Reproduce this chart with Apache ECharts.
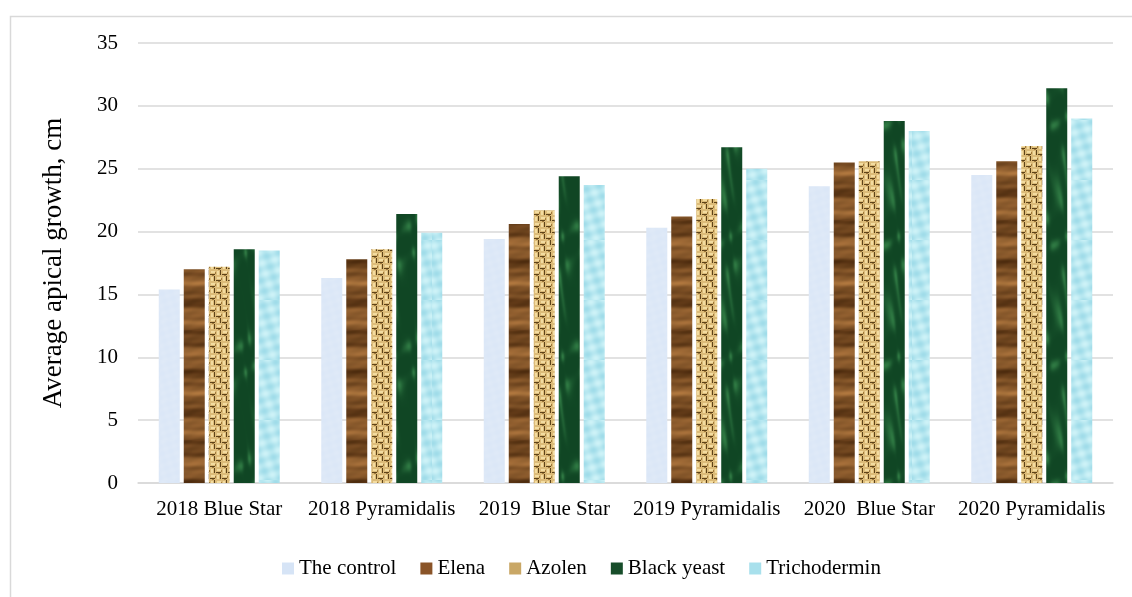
<!DOCTYPE html>
<html>
<head>
<meta charset="utf-8">
<script src="https://cdn.jsdelivr.net/npm/echarts@6/dist/echarts.min.js"></script>
<style>
  html, body { margin: 0; padding: 0; background: #fff; }
  #chart { width: 1132px; height: 597px; }
</style>
</head>
<body>
<div id="chart"></div>
<script>
// Categories (year + cultivar) and treatment series
const categories = ['2018 Blue Star', '2018 Pyramidalis', '2019  Blue Star', '2019 Pyramidalis', '2020  Blue Star', '2020 Pyramidalis'];
const seriesNames = ['The control', 'Elena', 'Azolen', 'Black yeast', 'Trichodermin'];

const controlValues     = [15.4, 16.3, 19.4, 20.3, 23.6, 24.5];
const elenaValues       = [17.0, 17.8, 20.6, 21.2, 25.5, 25.6];
const azolenValues      = [17.2, 18.6, 21.7, 22.6, 25.6, 26.8];
const blackYeastValues  = [18.6, 21.4, 24.4, 26.7, 28.8, 31.4];
const trichoValues      = [18.5, 19.9, 23.7, 25.0, 28.0, 29.0];

const yTicks = [0, 5, 10, 15, 20, 25, 30, 35];

// ---- Texture fills for the bars (drawn procedurally on small canvases) ----
function makeCanvas(w, h) {
  const c = document.createElement('canvas');
  c.width = w; c.height = h;
  return c;
}

// Pale frosted blue
function frostTexture() {
  const c = makeCanvas(40, 40), g = c.getContext('2d');
  g.fillStyle = '#dbe7f7'; g.fillRect(0, 0, 40, 40);
  for (let y = 0; y < 40; y++) {
    for (let x = 0; x < 40; x++) {
      const v = Math.sin(x * 0.45 + y * 0.3) * Math.cos(y * 0.5 - x * 0.2);
      const a = 0.12 * (v + 1) / 2;
      g.fillStyle = 'rgba(255,255,255,' + a.toFixed(3) + ')';
      g.fillRect(x, y, 1, 1);
    }
  }
  return c;
}

// Wood grain: broad horizontal brown bands
function woodTexture() {
  const c = makeCanvas(24, 110), g = c.getContext('2d');
  for (let y = 0; y < 110; y++) {
    const t = y / 110 * Math.PI * 2;
    const v = 0.5 + 0.28 * Math.sin(t * 3 + 0.4) + 0.18 * Math.sin(t * 8 + 1.3) + 0.06 * Math.sin(t * 17);
    const r = Math.round(170 - 90 * v), gg = Math.round(115 - 70 * v), b = Math.round(60 - 45 * v);
    for (let x = 0; x < 24; x++) {
      const d = 5 * Math.sin(x * 0.25 + y * 0.6);
      g.fillStyle = 'rgb(' + Math.round(r + d) + ',' + Math.round(gg + d * 0.7) + ',' + Math.max(0, Math.round(b + d * 0.4)) + ')';
      g.fillRect(x, y, 1, 1);
    }
  }
  return c;
}

// Woven straw: small interlocking blocks in tan
function weaveTexture() {
  const c = makeCanvas(12, 12), g = c.getContext('2d');
  g.fillStyle = '#dcbb78'; g.fillRect(0, 0, 12, 12);
  g.fillStyle = '#f3dca0';
  g.fillRect(1, 1, 4, 2); g.fillRect(7, 7, 4, 2);
  g.fillRect(7, 1, 2, 4); g.fillRect(1, 7, 2, 4);
  g.fillStyle = '#5e4318';
  g.fillRect(0, 4, 5, 1); g.fillRect(6, 10, 5, 1);
  g.fillRect(10, 0, 1, 5); g.fillRect(4, 6, 1, 5);
  g.fillStyle = '#a07a3c';
  g.fillRect(5, 2, 1, 2); g.fillRect(11, 8, 1, 2);
  g.fillRect(2, 5, 2, 1); g.fillRect(8, 11, 2, 1);
  return c;
}

// Dark green marble with soft veins
function marbleTexture() {
  const c = makeCanvas(42, 120), g = c.getContext('2d');
  for (let y = 0; y < 120; y++) {
    for (let x = 0; x < 42; x++) {
      const a = Math.sin(x * 0.15 + Math.sin(y * 0.0524) * 2.2 + y * 0.0524 * 2);
      const b2 = Math.sin(x * 0.45 - y * 0.105 + Math.cos(x * 0.3));
      const v = Math.pow((a * 0.6 + b2 * 0.4 + 1) / 2, 5);
      const r = Math.round(16 + 30 * v), gg = Math.round(70 + 50 * v), b = Math.round(36 + 30 * v);
      g.fillStyle = 'rgb(' + r + ',' + gg + ',' + b + ')';
      g.fillRect(x, y, 1, 1);
    }
  }
  return c;
}

// Light aqua water ripples
function waterTexture() {
  const c = makeCanvas(48, 60), g = c.getContext('2d');
  for (let y = 0; y < 60; y++) {
    for (let x = 0; x < 48; x++) {
      const v = Math.sin(x * 0.3 + y * 0.2) * Math.sin(y * 0.35 - x * 0.15) * 0.5 + 0.5;
      const r = Math.round(160 + 45 * v), gg = Math.round(220 + 22 * v), b = Math.round(233 + 14 * v);
      g.fillStyle = 'rgb(' + r + ',' + gg + ',' + b + ')';
      g.fillRect(x, y, 1, 1);
    }
  }
  return c;
}

const fills = [
  { image: frostTexture(), repeat: 'repeat' },
  { image: woodTexture(), repeat: 'repeat' },
  { image: weaveTexture(), repeat: 'repeat' },
  { image: marbleTexture(), repeat: 'repeat' },
  { image: waterTexture(), repeat: 'repeat' }
];
const legendColors = ['#d6e4f6', '#8a5428', '#c9a766', '#174d2a', '#a8e0ec'];

const valueSets = [controlValues, elenaValues, azolenValues, blackYeastValues, trichoValues];
const FONT = '"Liberation Serif", "Times New Roman", serif';

const chart = echarts.init(document.getElementById('chart'), null, { renderer: 'canvas' });

chart.setOption({
  backgroundColor: '#ffffff',
  animation: false,
  graphic: [{
    type: 'rect',
    left: 8, top: 14,
    shape: { width: 1200, height: 700 },
    style: { fill: 'none', stroke: '#d9d9d9', lineWidth: 1.5 },
    silent: true, z: -1
  }],
  grid: { left: 138, right: 19, top: 43, bottom: 114 },
  legend: {
    bottom: 13,
    left: 277,
    itemWidth: 12,
    itemHeight: 12,
    itemGap: 24,
    icon: 'rect',
    textStyle: { fontFamily: FONT, fontSize: 21, color: '#000', padding: [0, 0, 0, 0] },
    data: seriesNames.map((n, i) => ({ name: n, itemStyle: { color: legendColors[i] } }))
  },
  xAxis: {
    type: 'category',
    data: categories,
    axisLine: { lineStyle: { color: '#d9d9d9', width: 1.5 } },
    axisTick: { show: false },
    axisLabel: { fontFamily: FONT, fontSize: 21, color: '#000', margin: 16, interval: 0, hideOverlap: false }
  },
  yAxis: {
    type: 'value',
    min: yTicks[0],
    max: yTicks[yTicks.length - 1],
    interval: 5,
    name: 'Average apical growth, cm',
    nameLocation: 'middle',
    nameGap: 71,
    nameTextStyle: { fontFamily: FONT, fontSize: 27, color: '#000' },
    axisLine: { show: false },
    axisTick: { show: false },
    axisLabel: { fontFamily: FONT, fontSize: 21, color: '#000', margin: 20 },
    splitLine: { lineStyle: { color: '#d9d9d9', width: 1.5 } }
  },
  series: seriesNames.map((name, i) => ({
    name,
    type: 'bar',
    data: valueSets[i],
    barWidth: 21,
    barGap: '19%',
    itemStyle: { color: fills[i] }
  }))
});
</script>
</body>
</html>
